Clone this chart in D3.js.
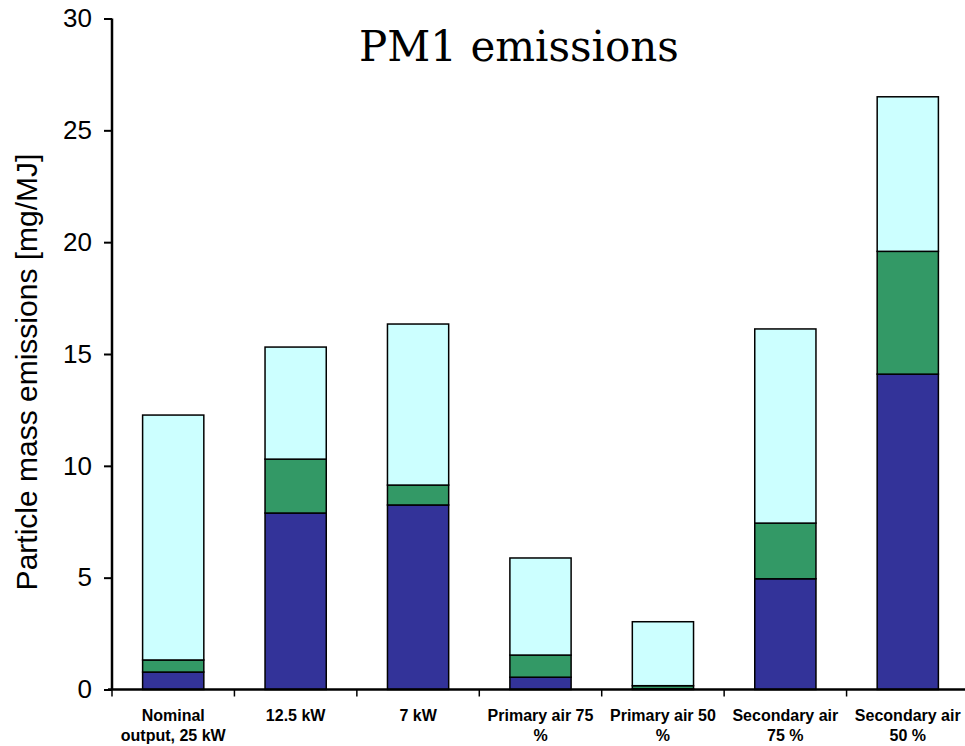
<!DOCTYPE html>
<html>
<head>
<meta charset="utf-8">
<script src="https://cdn.jsdelivr.net/npm/d3@7"></script>
<style>
  body { margin: 0; background: #fff; }
  svg { display: block; }
</style>
</head>
<body>
<div id="chart"></div>
<script>
const categories = [
    ["Nominal", "output, 25 kW"],
    ["12.5 kW"],
    ["7 kW"],
    ["Primary air 75", "%"],
    ["Primary air 50", "%"],
    ["Secondary air", "75 %"],
    ["Secondary air", "50 %"]
];
// stacked segments, bottom to top
const seriesBottom = [0.78, 7.89, 8.25, 0.55, 0.03, 4.95, 14.1];
const seriesMiddle = [0.54, 2.41, 0.89, 0.99, 0.14, 2.49, 5.49];
const seriesTop = [10.95, 5.01, 7.20, 4.34, 2.86, 8.68, 6.91];
const seriesColors = ["#333399", "#339966", "#ccffff"];
const yTicks = [0, 5, 10, 15, 20, 25, 30];

const width = 965, height = 746;
const margin = {top: 18.5, left: 112, bottom: 56.5, right: -4};

const svg = d3.select("#chart").append("svg")
    .attr("width", width)
    .attr("height", height);

const rows = categories.map((c, i) => ({
    idx: i,
    bottom: seriesBottom[i],
    middle: seriesMiddle[i],
    top: seriesTop[i]
}));
const stack = d3.stack().keys(["bottom", "middle", "top"])(rows);

const x = d3.scaleBand()
    .domain(d3.range(categories.length))
    .range([margin.left, width - margin.right])
    .paddingInner(0.5)
    .paddingOuter(0.25);
const xEdges = d3.scaleBand()
    .domain(d3.range(categories.length))
    .range([margin.left, width - margin.right]);
const y = d3.scaleLinear()
    .domain([0, 30])
    .range([height - margin.bottom, margin.top]);

// bars
svg.append("g")
    .selectAll("g")
    .data(stack)
    .join("g")
    .attr("fill", (d, i) => seriesColors[i])
    .selectAll("rect")
    .data(d => d)
    .join("rect")
    .attr("x", d => x(d.data.idx))
    .attr("width", x.bandwidth())
    .attr("y", d => y(d[1]))
    .attr("height", d => y(d[0]) - y(d[1]))
    .attr("stroke", "#000")
    .attr("stroke-width", 1.5);

// y axis
const yAxis = svg.append("g")
    .attr("transform", `translate(${margin.left},0)`)
    .call(d3.axisLeft(y).tickValues(yTicks).tickSize(8).tickPadding(12));
yAxis.select(".domain").attr("stroke-width", 2.5).attr("d", `M0,${y(30)}V${y(0)}`);
yAxis.selectAll(".tick line").attr("stroke-width", 2);
yAxis.selectAll(".tick text")
    .attr("font-family", "Liberation Sans, Arial, sans-serif")
    .attr("font-size", 26)
    .attr("fill", "#000");

// x axis
const xAxis = svg.append("g")
    .attr("transform", `translate(0,${y(0)})`);
xAxis.append("line")
    .attr("x1", margin.left - 4).attr("x2", width)
    .attr("stroke", "#000").attr("stroke-width", 2.5);
xAxis.selectAll("line.tk")
    .data(d3.range(categories.length + 1))
    .join("line")
    .attr("class", "tk")
    .attr("x1", i => i < categories.length ? xEdges(i) : xEdges(i - 1) + xEdges.bandwidth())
    .attr("x2", i => i < categories.length ? xEdges(i) : xEdges(i - 1) + xEdges.bandwidth())
    .attr("y1", 0).attr("y2", 7)
    .attr("stroke", "#000").attr("stroke-width", 1.5);

const labels = xAxis.selectAll("text")
    .data(categories)
    .join("text")
    .attr("font-family", "Liberation Sans, Arial, sans-serif")
    .attr("font-weight", "bold")
    .attr("font-size", 16)
    .attr("text-anchor", "middle")
    .attr("fill", "#000");
labels.selectAll("tspan")
    .data((d, i) => d.map(s => ({s, i})))
    .join("tspan")
    .attr("x", d => xEdges(d.i) + xEdges.bandwidth() / 2)
    .attr("y", (d, j) => 31 + j * 20)
    .text(d => d.s);

// axis title
svg.append("text")
    .attr("transform", `translate(37,${(y(0) + y(30)) / 2 + 18}) rotate(-90)`)
    .attr("text-anchor", "middle")
    .attr("font-family", "Liberation Sans, Arial, sans-serif")
    .attr("font-size", 30)
    .text("Particle mass emissions [mg/MJ]");

// chart title
svg.append("text")
    .attr("x", 519)
    .attr("y", 61)
    .attr("text-anchor", "middle")
    .attr("font-family", "DejaVu Serif, serif")
    .attr("font-size", 42)
    .text("PM1 emissions");
</script>
</body>
</html>
